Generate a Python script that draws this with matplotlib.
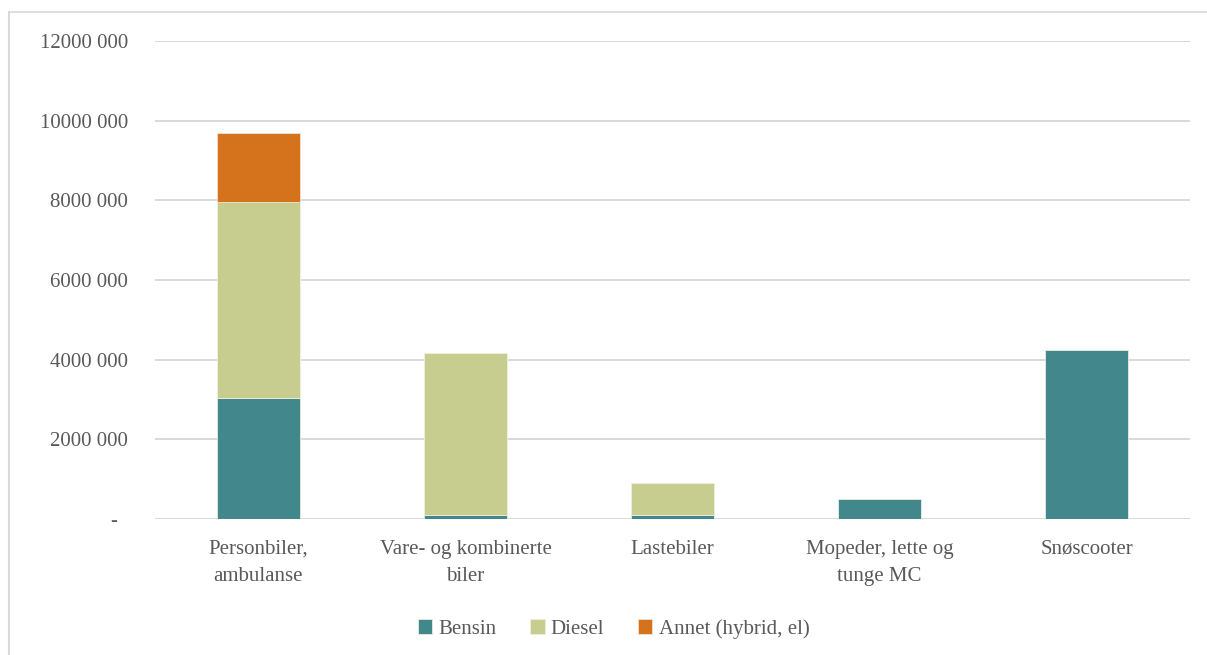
import numpy as np
import matplotlib.pyplot as plt
from matplotlib.lines import Line2D

kategorier = ["Personbiler,\nambulanse", "Vare- og kombinerte\nbiler", "Lastebiler",
              "Mopeder, lette og\ntunge MC", "Snøscooter"]
bensin = [3040000, 90000, 110000, 490000, 4240000]
diesel = [4920000, 4080000, 790000, 0, 0]
annet = [1730000, 0, 0, 0, 0]

y_ticks = [0, 2000000, 4000000, 6000000, 8000000, 10000000, 12000000]
y_labels = ["-  ", "2000 000", "4000 000", "6000 000", "8000 000", "10000 000", "12000 000"]

plt.rcParams["font.family"] = ["Liberation Serif", "DejaVu Serif"]
grey = "#595959"

fig = plt.figure(figsize=(12.07, 6.55), dpi=100)
ax = fig.add_axes([155 / 1207, 1 - 519 / 655, 1035 / 1207, 478 / 655])

# kantlinjer oppe og til venstre
fig.add_artist(Line2D([8.5 / 1207, 8.5 / 1207], [0, 1 - 12 / 655],
                      transform=fig.transFigure, color="#d9d9d9", linewidth=1.5))
fig.add_artist(Line2D([8.5 / 1207, 1], [1 - 12 / 655, 1 - 12 / 655],
                      transform=fig.transFigure, color="#d9d9d9", linewidth=1.2))

x = np.arange(len(kategorier))
b = 0.4


def stolper(verdier, bunn, farge, kant, navn):
    verdier = np.array(verdier, dtype=float)
    lw = np.where(verdier > 0, 0.6, 0.0)
    ax.bar(x, verdier, b, bottom=bunn, color=farge, label=navn,
           edgecolor=kant, linewidth=lw)


stolper(bensin, 0, "#41878b", "#e8eee0", "Bensin")
stolper(diesel, bensin, "#c6cd8f", "#eef0dc", "Diesel")
stolper(annet, np.add(bensin, diesel), "#d5731d", "#f0e0d0", "Annet (hybrid, el)")

ax.set_xlim(-0.5, len(kategorier) - 0.5)
ax.set_ylim(0, 12000000)
ax.set_yticks(y_ticks)
ax.set_yticklabels(y_labels)
ax.set_xticks(x)
ax.set_xticklabels(kategorier, linespacing=1.6)
ax.tick_params(axis="both", length=0, labelsize=15, colors=grey)
ax.tick_params(axis="y", pad=19.5)
ax.tick_params(axis="x", pad=15)
ax.grid(axis="y", color="#d9d9d9", linewidth=1.4)
ax.set_axisbelow(True)
for s in ax.spines.values():
    s.set_visible(False)

ax.legend(loc="lower center", bbox_to_anchor=(0.443, -0.29), ncol=3, frameon=False,
          fontsize=15, labelcolor=grey, handlelength=0.7, handleheight=0.7,
          handletextpad=0.3, columnspacing=1.6)

fig.savefig("out.png", dpi=100)
